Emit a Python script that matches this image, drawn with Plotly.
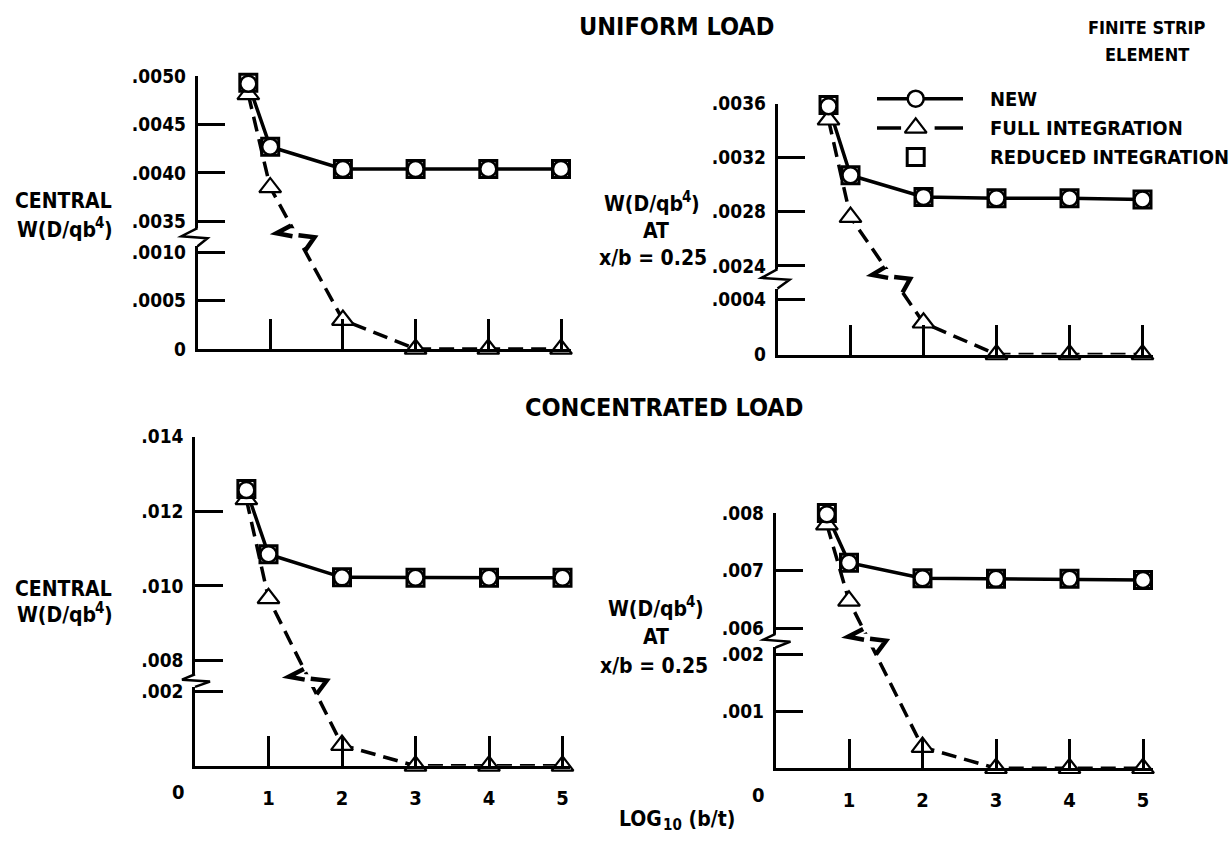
import plotly.graph_objects as go

W, H = 1231, 845
FONT = "DejaVu Sans Condensed, Liberation Sans Narrow, Arial Narrow, DejaVu Sans, sans-serif"
INK = "black"

# ---------------- data ----------------
log_bt = [0.699, 1.0, 2.0, 3.0, 4.0, 5.0]  # LOG10(b/t) for b/t = 5, 10, 1e2, 1e3, 1e4, 1e5

# uniform load, central deflection
uc_new = [0.00492, 0.00427, 0.00404, 0.00404, 0.00404, 0.00404]
uc_full = [0.00481, 0.00385, 0.00030, 0.0, 0.0, 0.0]
uc_reduced = [0.00493, 0.00427, 0.00404, 0.00404, 0.00404, 0.00404]
# uniform load, deflection at x/b = 0.25
uq_new = [0.00358, 0.00307, 0.00291, 0.00290, 0.00290, 0.00289]
uq_full = [0.00348, 0.00276, 0.00023, 0.0, 0.0, 0.0]
uq_reduced = [0.00359, 0.00307, 0.00291, 0.00290, 0.00290, 0.00289]
# concentrated load, central deflection
cc_new = [0.01257, 0.01085, 0.01023, 0.01022, 0.01022, 0.01022]
cc_full = [0.01232, 0.00967, 0.00056, 0.0, 0.0, 0.0]
cc_reduced = [0.01260, 0.01085, 0.01023, 0.01022, 0.01022, 0.01022]
# concentrated load, deflection at x/b = 0.25
cq_new = [0.00798, 0.00714, 0.00687, 0.00686, 0.00686, 0.00684]
cq_full = [0.00780, 0.00648, 0.00037, 0.0, 0.0, 0.0]
cq_reduced = [0.00800, 0.00714, 0.00687, 0.00686, 0.00686, 0.00684]

x_tick_vals = [1, 2, 3, 4, 5]
x_tick_text = ["1", "2", "3", "4", "5"]

uc_upper_vals = [0.0035, 0.0040, 0.0045, 0.0050]
uc_upper_text = [".0035", ".0040", ".0045", ".0050"]
uc_lower_vals = [0.0, 0.0005, 0.0010]
uc_lower_text = ["0", ".0005", ".0010"]
uq_upper_vals = [0.0024, 0.0028, 0.0032, 0.0036]
uq_upper_text = [".0024", ".0028", ".0032", ".0036"]
uq_lower_vals = [0.0, 0.0004]
uq_lower_text = ["0", ".0004"]
cc_upper_vals = [0.008, 0.010, 0.012, 0.014]
cc_upper_text = [".008", ".010", ".012", ".014"]
cc_lower_vals = [0.002]
cc_lower_text = [".002"]
cq_upper_vals = [0.006, 0.007, 0.008]
cq_upper_text = [".006", ".007", ".008"]
cq_lower_vals = [0.001, 0.002]
cq_lower_text = [".001", ".002"]

series_names = ["NEW", "FULL INTEGRATION", "REDUCED INTEGRATION"]

# ---------------- geometry (pixels) ----------------
panels = [
    dict(new=uc_new, full=uc_full, red=uc_reduced,
         up_t=uc_upper_vals, up_s=uc_upper_text, lo_t=uc_lower_vals, lo_s=uc_lower_text,
         x0=197.5, x1=570.5, unit=72.7,
         up_dom=(66.7, 223.0), up_cal=((0.0050, 66.7), (0.0035, 216.0)),
         lo_dom=(241.5, 347.0), lo_cal=((0.0010, 248.0), (0.0, 347.0)),
         zig=(-16, 10), xlabels=False),
    dict(new=uq_new, full=uq_full, red=uq_reduced,
         up_t=uq_upper_vals, up_s=uq_upper_text, lo_t=uq_lower_vals, lo_s=uq_lower_text,
         x0=777.5, x1=1152.5, unit=73.0,
         up_dom=(95.0, 265.0), up_cal=((0.0036, 95.0), (0.0024, 261.7)),
         lo_dom=(285.0, 352.7), lo_cal=((0.0004, 296.0), (0.0, 352.7)),
         zig=(-16, 12), xlabels=False),
    dict(new=cc_new, full=cc_full, red=cc_reduced,
         up_t=cc_upper_vals, up_s=cc_upper_text, lo_t=cc_lower_vals, lo_s=cc_lower_text,
         x0=195.0, x1=570.0, unit=73.5,
         up_dom=(437.0, 681.0), up_cal=((0.014, 437.0), (0.008, 667.0)),
         lo_dom=(694.0, 775.0), lo_cal=((0.002, 699.0), (0.0, 775.0)),
         zig=(-13, 15), xlabels=True),
    dict(new=cq_new, full=cq_full, red=cq_reduced,
         up_t=cq_upper_vals, up_s=cq_upper_text, lo_t=cq_lower_vals, lo_s=cq_lower_text,
         x0=775.5, x1=1152.5, unit=73.5,
         up_dom=(515.5, 639.5), up_cal=((0.008, 515.5), (0.006, 634.0)),
         lo_dom=(653.5, 777.5), lo_cal=((0.002, 660.5), (0.0, 777.5)),
         zig=(-12, 15), xlabels=True),
]


def px_x(px):
    return px / W


def px_y(py):
    return 1.0 - py / H


def calib(dom, cal):
    (va, pa), (vb, pb) = cal
    s = (va - vb) / (pb - pa)
    top, bot = dom
    rng = [va - (bot - pa) * s, va + (pa - top) * s]
    return rng, (lambda v: pa + (va - v) / s), (lambda p: va + (pa - p) * s)


def font(size):
    return dict(family=FONT, size=size, color=INK, weight="bold")


SOLID = dict(color=INK, width=3.5)
DASHED = dict(color=INK, width=3.5, dash="15px,8px")
CIR = dict(symbol="circle", size=16, color="white", line=dict(color=INK, width=2.5))
SQ = dict(symbol="square", size=17, color="white", line=dict(color=INK, width=3))
TRI = dict(symbol="triangle-up", size=19, color="white", line=dict(color=INK, width=2.2))

fig = go.Figure()
lay = {}
shapes = []
annots = []

for i, p in enumerate(panels):
    n = i + 1
    xr = "x" if n == 1 else f"x{n}"
    yu = "y" if n == 1 else f"y{2 * n - 1}"
    yl = f"y{2 * n}"
    up_rng, up_px, up_val = calib(p["up_dom"], p["up_cal"])
    lo_rng, lo_px, lo_val = calib(p["lo_dom"], p["lo_cal"])
    xmax = (p["x1"] - p["x0"]) / p["unit"]
    x0, unit = p["x0"], p["unit"]
    full, new, red = p["full"], p["new"], p["red"]

    k = next(j for j, v in enumerate(full) if v < up_rng[0])  # first point below the break
    full_up_line = full[:k] + [up_val(lo_px(full[k]))]
    full_lo_line = [lo_val(up_px(full[k - 1]))] + full[k:]

    common = dict(xaxis=xr, hoverinfo="skip", showlegend=False)
    fig.add_trace(go.Scatter(x=log_bt[:k + 1], y=full_up_line, yaxis=yu, mode="lines", line=DASHED, **common))
    fig.add_trace(go.Scatter(x=log_bt[k - 1:], y=full_lo_line, yaxis=yl, mode="lines", line=DASHED, **common))
    fig.add_trace(go.Scatter(x=log_bt, y=new, yaxis=yu, mode="lines", line=SOLID, **common))
    fig.add_trace(go.Scatter(x=log_bt[:k], y=full[:k], yaxis=yu, mode="markers", marker=TRI, cliponaxis=False, **common))
    fig.add_trace(go.Scatter(x=log_bt[k:], y=full[k:], yaxis=yl, mode="markers", marker=TRI, cliponaxis=False, **common))
    fig.add_trace(go.Scatter(x=log_bt, y=red, yaxis=yu, mode="markers", marker=SQ, cliponaxis=False, **common))
    fig.add_trace(go.Scatter(x=log_bt, y=new, yaxis=yu, mode="markers", marker=CIR, cliponaxis=False, **common))

    xkey = "xaxis" if n == 1 else f"xaxis{n}"
    yukey = "yaxis" if n == 1 else f"yaxis{2 * n - 1}"
    ylkey = f"yaxis{2 * n}"
    xa = dict(domain=[px_x(p["x0"]), px_x(p["x1"])], range=[0, xmax], anchor=yl,
              showline=True, linecolor=INK, linewidth=2.5, ticks="inside", ticklen=30,
              tickwidth=2.5, tickcolor=INK, tickvals=x_tick_vals, showgrid=False, zeroline=False,
              fixedrange=True)
    if p["xlabels"]:
        xa.update(ticktext=x_tick_text, showticklabels=True, tickfont=font(20), ticklabelstandoff=12)
    else:
        xa.update(showticklabels=False)
    lay[xkey] = xa
    yax = dict(anchor=xr, showline=True, linecolor=INK, linewidth=2.5, ticks="inside", ticklen=28,
               tickwidth=2.5, tickcolor=INK, showgrid=False, zeroline=False, tickfont=font(19),
               ticklabelstandoff=5, fixedrange=True)
    lay[yukey] = dict(yax, domain=[px_y(p["up_dom"][1]), px_y(p["up_dom"][0])], range=up_rng,
                      tickvals=p["up_t"], ticktext=p["up_s"])
    lay[ylkey] = dict(yax, domain=[px_y(p["lo_dom"][1]), px_y(p["lo_dom"][0])], range=lo_rng,
                      tickvals=p["lo_t"], ticktext=p["lo_s"])

    # axis break zigzag
    ub, lt = p["up_dom"][1], p["lo_dom"][0]
    by = (ub + lt) / 2
    zl, zr = p["zig"]
    ax = x0
    pts = [(ax, ub), (ax + zl, by - 1), (ax + zr, by + 1), (ax, lt)]
    path = "M " + " L ".join(f"{px_x(a):.5f},{px_y(b):.5f}" for a, b in pts)
    shapes.append(dict(type="path", path=path, xref="paper", yref="paper",
                       line=dict(color=INK, width=2.5)))

    # line-break mark on the dashed curve
    P1 = (x0 + log_bt[k - 1] * unit, up_px(full[k - 1]))
    P2 = (x0 + log_bt[k] * unit, lo_px(full[k]))
    slope = (P2[0] - P1[0]) / (P2[1] - P1[1])
    cx = P1[0] + (by - P1[1]) * slope
    left = [(cx - 12 * slope, by - 12), (cx - 21, by - 4), (cx - 5, by - 1)]
    right = [(cx + 1, by - 2), (cx + 17, by), (cx + 14 * slope, by + 14)]
    for seg in (left, right):
        path = "M " + " L ".join(f"{px_x(a):.5f},{px_y(b):.5f}" for a, b in seg)
        shapes.append(dict(type="path", path=path, xref="paper", yref="paper",
                           line=dict(color=INK, width=4.5)))

    if p["xlabels"]:
        annots.append(dict(text="0", xref=xr, x=0, xshift=-17, yref="paper",
                           y=px_y(p["lo_dom"][1] + 27), showarrow=False, font=font(20),
                           xanchor="center", yanchor="middle"))

# legend key drawn on a hidden helper axis
lay["xaxis5"] = dict(domain=[px_x(877), px_x(963)], range=[0, 1], visible=False, anchor="y9", fixedrange=True)
lay["yaxis9"] = dict(domain=[px_y(165), px_y(75)], range=[0, 3], visible=False, anchor="x5", fixedrange=True)
key_rows = [2.5, 1.5, 0.5]
fig.add_trace(go.Scatter(x=[0, 1], y=[key_rows[0]] * 2, xaxis="x5", yaxis="y9", mode="lines",
                         line=SOLID, hoverinfo="skip", showlegend=False))
fig.add_trace(go.Scatter(x=[0, 0.28, None, 0.67, 1], y=[key_rows[1]] * 2 + [None] + [key_rows[1]] * 2,
                         xaxis="x5", yaxis="y9", mode="lines", line=SOLID, hoverinfo="skip", showlegend=False))
fig.add_trace(go.Scatter(x=[0.45], y=[key_rows[0]], xaxis="x5", yaxis="y9", mode="markers", marker=CIR,
                         hoverinfo="skip", showlegend=False))
fig.add_trace(go.Scatter(x=[0.45], y=[key_rows[1]], xaxis="x5", yaxis="y9", mode="markers", marker=TRI,
                         hoverinfo="skip", showlegend=False))
fig.add_trace(go.Scatter(x=[0.45], y=[key_rows[2]], xaxis="x5", yaxis="y9", mode="markers", marker=SQ,
                         hoverinfo="skip", showlegend=False))
for name, row in zip(series_names, key_rows):
    annots.append(dict(text=name, xref="paper", x=px_x(988), yref="y9", y=row, showarrow=False,
                       font=font(20), xanchor="left", yanchor="middle"))


def label(text, x, y, size=21, anchor="center"):
    annots.append(dict(text=text, xref="paper", yref="paper", x=px_x(x), y=px_y(y), showarrow=False,
                       font=font(size), xanchor=anchor, yanchor="middle"))


# approximate advance widths (em) of the bold condensed face, for composing super/subscripts
ADV = {"W": 0.925, "(": 0.411, "D": 0.747, "/": 0.329, "q": 0.644, "b": 0.644, ")": 0.411,
       "L": 0.573, "O": 0.765, "G": 0.739, "1": 0.626, "0": 0.626, "4": 0.626, " ": 0.313,
       "t": 0.43}


def text_w(s, size):
    return sum(ADV.get(c, 0.6) for c in s) * size


def composed(parts, cx, cy):
    """parts: list of (text, size, dy); placed left to right, centred on cx."""
    total = sum(text_w(t, s) for t, s, _ in parts)
    x = cx - total / 2
    for t, s, dy in parts:
        label(t, x, cy + dy, s, anchor="left")
        x += text_w(t, s)


def wq_label(cx, cy):
    composed([("W(D/qb", 21, 0), ("4", 15, -7), (")", 21, 0)], cx, cy)


label("UNIFORM LOAD", 676, 16, 25)
label("CONCENTRATED LOAD", 664, 407, 25)
label("FINITE STRIP", 1147, 17, 18)
label("ELEMENT", 1147, 45, 18)
label("CENTRAL", 63, 195)
wq_label(63, 225)
wq_label(650, 198)
label("AT", 656, 226)
label("x/b = 0.25", 653, 254)
label("CENTRAL", 63, 593)
wq_label(63, 620)
wq_label(654, 614)
label("AT", 656, 643)
label("x/b = 0.25", 654, 672)
composed([("LOG", 21, 0), ("10", 15, 6), (" (b/t)", 21, 0)], 675, 830)

fig.update_layout(width=W, height=H, margin=dict(l=0, r=0, t=0, b=0),
                  paper_bgcolor="white", plot_bgcolor="white", showlegend=False,
                  shapes=shapes, annotations=annots, **lay)

fig.write_html("out.html", config={"displayModeBar": False},
               post_script="document.body.style.margin='0px';")
